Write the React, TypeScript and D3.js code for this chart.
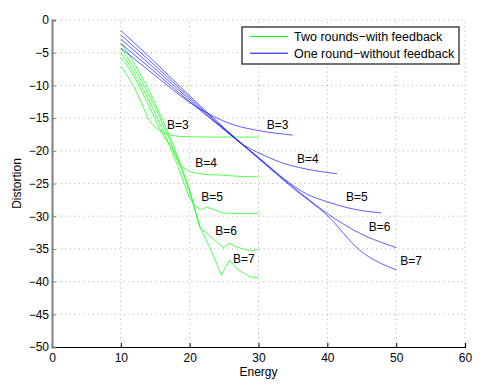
import React, { useEffect, useRef } from 'react';
import * as d3 from 'd3';

const width = 499, height = 386;
const margin = { top: 20, right: 34, bottom: 39, left: 52 };

// x / y tick values
const xTicks = [0, 10, 20, 30, 40, 50, 60];
const yTicks = [0, -5, -10, -15, -20, -25, -30, -35, -40, -45, -50];

// bit budgets, one curve each
const bits = [3, 4, 5, 6, 7];

// two rounds, with feedback (green)
const greenB3 = [[10, -7.1], [11, -8.6], [12, -10.4], [13, -12.6], [13.8, -14.8], [14.6, -16.0], [15.4, -16.8], [16.3, -17.3], [17.1, -17.6], [18.5, -17.8], [22, -17.9], [26, -17.9], [30, -17.9]];
const greenB4 = [[10, -5.7], [11, -7.1], [12, -8.8], [13, -10.8], [14, -13.0], [15, -15.2], [16, -17.4], [17.4, -19.6], [18.6, -22.2], [20, -23.2], [22, -23.6], [24.4, -23.7], [27, -23.9], [30, -24.0]];
const greenB5 = [[10, -5.0], [11, -6.5], [12, -8.2], [13, -10.1], [14, -12.1], [15, -14.3], [16, -16.6], [17, -19.0], [18, -21.6], [19, -24.4], [20, -27.3], [21, -28.6], [21.7, -29.0], [22.5, -28.6], [23.5, -29.0], [24.8, -29.5], [27, -29.6], [30, -29.6]];
const greenB6 = [[10, -4.3], [11, -5.8], [12, -7.5], [13, -9.3], [14, -11.3], [15, -13.4], [16, -15.7], [17, -18.1], [18, -20.6], [19, -23.3], [20, -26.3], [21.5, -31.8], [22.5, -32.6], [24, -34.0], [24.9, -34.8], [25.8, -34.1], [26.8, -34.7], [28.8, -35.3], [30, -35.1]];
const greenB7 = [[10, -3.5], [11, -5.0], [12, -6.7], [13, -8.6], [14, -10.6], [15, -12.8], [16, -15.1], [17, -17.6], [18, -20.2], [19, -23.0], [20, -26.0], [21.5, -31.6], [22.9, -34.7], [24.6, -39.0], [25.8, -36.7], [27, -38.2], [28.8, -39.3], [30, -39.4]];

// one round, without feedback (blue)
const blueB3 = [[10, -4.3], [15, -8.5], [20, -12.6], [23.4, -14.7], [26.3, -16.0], [30, -16.9], [35, -17.6]];
const blueB4 = [[10, -3.6], [15, -8.0], [20, -12.5], [25, -16.7], [28, -19.2], [30, -20.3], [33.6, -21.9], [37, -22.8], [41.4, -23.5]];
const blueB5 = [[10, -2.9], [15, -7.5], [20, -12.2], [25, -16.8], [30, -21.0], [34.6, -25.0], [37, -26.6], [40, -27.8], [43.3, -28.8], [47.8, -29.5]];
const blueB6 = [[10, -2.3], [15, -7.0], [20, -11.9], [25, -16.6], [30, -21.1], [35, -25.5], [40, -29.6], [44.7, -32.6], [50, -34.8]];
const blueB7 = [[10, -1.6], [15, -6.5], [20, -11.6], [25, -16.5], [30, -21.2], [35, -25.7], [40, -29.9], [44.7, -35.2], [50, -38.2]];

const greenSeries = [greenB3, greenB4, greenB5, greenB6, greenB7];
const blueSeries = [blueB3, blueB4, blueB5, blueB6, blueB7];

// where the B=.. annotations sit (energy, distortion at text baseline)
const greenLabels = [[16.7, -16.7], [20.8, -22.5], [21.7, -27.7], [23.7, -32.9], [26.3, -37.2]];
const blueLabels = [[31.2, -16.6], [35.6, -21.9], [42.7, -27.6], [46.0, -32.3], [50.6, -37.5]];

const legendNames = ['Two rounds\u2212with feedback', 'One round\u2212without feedback'];
const green = '#00ff00';
const blue = '#0000ff';

export default function App() {
  const ref = useRef<SVGSVGElement>(null);

  useEffect(() => {
    const svg = d3.select(ref.current);
    svg.selectAll('*').remove();

    const x = d3.scaleLinear().domain([0, 60]).range([margin.left, width - margin.right]);
    const y = d3.scaleLinear().domain([-50, 0]).range([height - margin.bottom, margin.top]);
    const font = "'Liberation Sans', Arial, Helvetica, sans-serif";

    // dotted grid
    const grid = svg.append('g');
    grid.selectAll('.vg').data(xTicks.slice(1)).enter().append('line')
      .attr('x1', d => x(d)).attr('x2', d => x(d))
      .attr('y1', y(-50)).attr('y2', y(0))
      .attr('stroke', '#999').attr('stroke-width', 0.8).attr('stroke-dasharray', '1,3.5');
    grid.selectAll('.hg').data(yTicks.slice(0, -1)).enter().append('line')
      .attr('x1', x(0)).attr('x2', x(60))
      .attr('y1', d => y(d)).attr('y2', d => y(d))
      .attr('stroke', '#999').attr('stroke-width', 0.8).attr('stroke-dasharray', '1,3.5');

    // curves
    const line = d3.line<number[]>().x(d => x(d[0])).y(d => y(d[1]));
    const smooth = d3.line<number[]>().x(d => x(d[0])).y(d => y(d[1])).curve(d3.curveMonotoneX);
    greenSeries.forEach(s => {
      svg.append('path').attr('d', line(s)).attr('fill', 'none')
        .attr('stroke', green).attr('stroke-width', 0.9).attr('stroke-opacity', 0.75);
    });
    blueSeries.forEach(s => {
      svg.append('path').attr('d', smooth(s)).attr('fill', 'none')
        .attr('stroke', blue).attr('stroke-width', 0.9).attr('stroke-opacity', 0.7);
    });

    // annotations
    const labels = svg.append('g').attr('font-family', font).attr('font-size', 12).attr('fill', '#000');
    bits.forEach((b, i) => {
      labels.append('text').attr('x', x(greenLabels[i][0])).attr('y', y(greenLabels[i][1])).text(`B=${b}`);
      labels.append('text').attr('x', x(blueLabels[i][0])).attr('y', y(blueLabels[i][1])).text(`B=${b}`);
    });

    // axes
    const xAxis = d3.axisBottom(x).tickValues(xTicks).tickSize(-4).tickPadding(6).tickFormat(d3.format('d'));
    const gx = svg.append('g').attr('transform', `translate(0,${y(-50)})`).call(xAxis);
    gx.select('.domain').attr('stroke', '#000').attr('stroke-width', 1.2);
    gx.selectAll('.tick line').attr('stroke', '#000');
    gx.selectAll('.tick text').attr('font-family', font).attr('font-size', 12).attr('fill', '#000');

    const yAxis = d3.axisLeft(y).tickValues(yTicks).tickSize(-4).tickPadding(3)
      .tickFormat(d => String(d).replace('-', '\u2212'));
    const gy = svg.append('g').attr('transform', `translate(${x(0)},0)`).call(yAxis);
    gy.select('.domain').attr('stroke', '#808080').attr('stroke-width', 2);
    gy.selectAll('.tick line').attr('stroke', '#808080');
    gy.selectAll('.tick text').attr('font-family', font).attr('font-size', 12).attr('fill', '#000');

    // axis titles
    svg.append('text').attr('x', x(30)).attr('y', 376).attr('text-anchor', 'middle')
      .attr('font-family', font).attr('font-size', 12).text('Energy');
    svg.append('text').attr('transform', `translate(21,${y(-25)}) rotate(-90)`).attr('text-anchor', 'middle')
      .attr('font-family', font).attr('font-size', 12).text('Distortion');

    // legend
    const lg = svg.append('g').attr('transform', 'translate(242,27)');
    lg.append('rect').attr('width', 217).attr('height', 37).attr('fill', '#fff')
      .attr('stroke', '#444').attr('stroke-width', 1.5);
    [green, blue].forEach((c, i) => {
      const yy = 9.5 + i * 16.7;
      lg.append('line').attr('x1', 8).attr('x2', 46).attr('y1', yy).attr('y2', yy)
        .attr('stroke', c).attr('stroke-width', 1);
      lg.append('text').attr('x', 52).attr('y', yy + 4.5).attr('font-family', font)
        .attr('font-size', 12.5).attr('fill', '#000').text(legendNames[i]);
    });
  }, []);

  return (
    <svg ref={ref} width={width} height={height} viewBox={`0 0 ${width} ${height}`}
      style={{ position: 'absolute', left: 0, top: 0, background: '#fff' }} />
  );
}
